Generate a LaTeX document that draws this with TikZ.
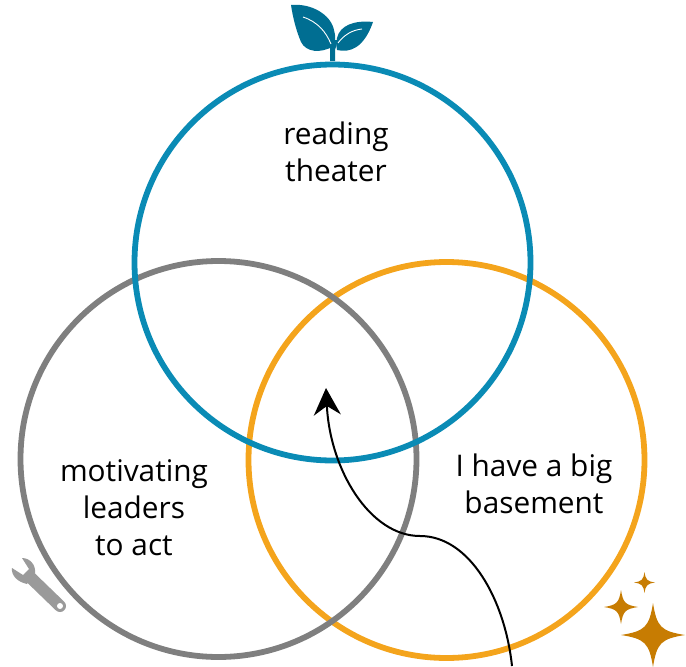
\documentclass[tikz,border=0pt]{standalone}
\usepackage{fontspec}
\setmainfont{Open Sans}
\usetikzlibrary{arrows.meta}
\definecolor{ringblue}{HTML}{0A8BB5}
\definecolor{ringgray}{HTML}{7F7F7F}
\definecolor{ringorange}{HTML}{F4A41C}
\definecolor{leafblue}{HTML}{006E92}
\definecolor{stargold}{HTML}{C77C02}
\definecolor{toolgray}{HTML}{9A9A9A}
\tikzset{
  ring/.style={circle,draw=#1,line width=5.8pt,minimum size=396pt,inner sep=0pt,outer sep=0pt,fill=none},
  label/.style={align=center,font=\fontsize{29.8}{36.8}\selectfont,text=black,inner sep=0pt},
  sparkle/.pic={\fill[stargold] (0,-1) .. controls (0.12,-0.25) and (0.25,-0.12) .. (1,0)
     .. controls (0.25,0.12) and (0.12,0.25) .. (0,1)
     .. controls (-0.12,0.25) and (-0.25,0.12) .. (-1,0)
     .. controls (-0.25,-0.12) and (-0.12,-0.25) .. (0,-1) -- cycle;}
}
\begin{document}
\begin{tikzpicture}[x=1pt,y=-1pt]
\useasboundingbox (0,0) rectangle (686,667);
\node[ring=ringorange] (magic) at (446.5,460) {};
\node[ring=ringgray] (tool) at (218.5,459) {};
\node[ring=ringblue] (growth) at (332.5,262.5) {};
\node[label] (t1) at (336,152) {reading\\theater};
\node[label] (t2) at (134,508) {motivating\\leaders\\to act};
\node[label] (t3) at (534,484) {I have a big\\basement};
\coordinate (start) at (512,666);
\coordinate (mid) at (420,536);
\coordinate (tip) at (326,388);
\draw[line width=2pt,-{Stealth[length=27pt,width=27pt,inset=9pt]}] (start) .. controls (505,600) and (470,536) .. (mid) .. controls (370,536) and (330,470) .. (tip);
% leaf
\fill[leafblue] (291,5) .. controls (312,3) and (331,15) .. (334,30) .. controls (336,36) and (335,42) .. (334,46)
  .. controls (320,54) and (306,52) .. (301,42) .. controls (296,30) and (293,18) .. (291,5) -- cycle;
\fill[leafblue] (373,22) .. controls (355,20) and (340,25) .. (337,38) .. controls (336,44) and (336,47) .. (337,50)
  .. controls (350,53) and (364,48) .. (373,22) -- cycle;
\fill[leafblue] (330,40) -- (338,40) -- (335,50) -- (335,61) -- (330,61) -- cycle;
\draw[white,line width=0.9pt] (303,17) .. controls (318,22) and (326,32) .. (331,44);
\draw[white,line width=0.9pt] (362,29) .. controls (352,30) and (344,35) .. (338,43);
% wrench
\draw[toolgray,line width=12pt,line cap=round] (30,577) -- (60,606);
\fill[toolgray] (22,558) .. controls (30,558) and (36,565) .. (35,573) -- (27,584) .. controls (18,582) and (11,576) .. (12,568) -- (23,575) -- (29,569) -- cycle;
\fill[white] (60,606) circle (3pt);
% sparkles
\pic[xscale=32,yscale=32] at (653,635) {sparkle};
\pic[xscale=17,yscale=17] at (621,607) {sparkle};
\pic[xscale=10.5,yscale=10.5] at (644.5,582.5) {sparkle};
\end{tikzpicture}
\end{document}
